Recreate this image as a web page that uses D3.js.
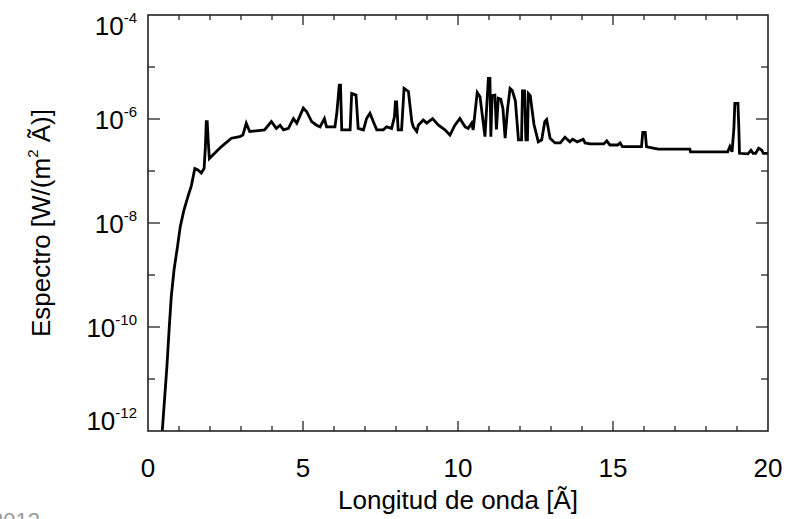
<!DOCTYPE html>
<html><head><meta charset="utf-8">
<script src="https://cdn.jsdelivr.net/npm/d3@7"></script>
<style>
html,body{margin:0;padding:0;background:#fff;overflow:hidden}
text{font-family:"Liberation Sans",Arial,Helvetica,sans-serif}
</style></head>
<body>
<svg id="chart" width="798" height="519"></svg>
<script>
const wavelength = [0.46,0.54,0.61,0.68,0.75,0.84,0.95,1.04,1.16,1.29,1.40,1.51,1.61,1.72,1.81,1.85,1.88,1.91,1.94,1.98,
2.15,2.37,2.69,2.96,3.06,3.17,3.28,3.76,3.98,4.14,4.26,4.37,4.53,4.69,4.80,5.01,5.12,5.28,5.44,5.55,5.69,5.76,6.03,6.09,6.17,6.21,6.25,
6.52,6.57,6.71,6.78,6.95,7.05,7.16,7.29,7.38,7.59,7.70,7.86,7.95,7.98,8.02,8.07,8.18,8.26,8.40,8.51,8.56,8.67,8.72,8.88,8.99,9.18,9.37,
9.58,9.74,9.90,10.06,10.23,10.33,10.44,10.49,10.62,10.71,10.87,10.98,11.03,11.06,11.10,11.19,11.24,11.30,11.38,11.45,11.52,11.60,11.68,
11.75,11.85,11.95,12.05,12.08,12.15,12.19,12.24,12.27,12.33,12.45,12.59,12.70,12.80,12.86,12.97,13.13,13.30,13.45,13.61,13.70,13.85,
14.04,14.10,14.26,14.70,14.80,14.90,15.15,15.23,15.30,15.92,15.96,16.04,16.08,16.14,16.46,17.48,17.50,18.50,18.70,18.77,18.84,18.90,
18.93,19.03,19.06,19.08,19.35,19.45,19.52,19.60,19.70,19.80,19.85,20.0];
const flux = [1.0e-12,4.57e-12,1.74e-11,8.71e-11,3.80e-10,1.26e-9,3.47e-9,8.51e-9,1.78e-8,3.24e-8,5.25e-8,1.12e-7,1.05e-7,9.12e-8,1.12e-7,2.82e-7,8.91e-7,8.91e-7,3.98e-7,1.74e-7,
2.19e-7,2.95e-7,4.27e-7,4.57e-7,4.90e-7,8.32e-7,5.75e-7,6.17e-7,8.91e-7,6.61e-7,7.59e-7,6.17e-7,6.61e-7,1.02e-6,8.32e-7,1.62e-6,1.38e-6,8.91e-7,7.59e-7,7.08e-7,1.02e-6,7.08e-7,7.08e-7,1.29e-6,4.47e-6,4.47e-6,6.17e-7,
6.17e-7,3.09e-6,2.88e-6,6.61e-7,6.17e-7,1.02e-6,1.29e-6,8.32e-7,6.17e-7,6.17e-7,7.08e-7,6.61e-7,1.10e-6,2.14e-6,2.14e-6,6.17e-7,6.17e-7,3.89e-6,3.39e-6,8.91e-7,7.08e-7,5.75e-7,7.59e-7,9.55e-7,8.32e-7,1.02e-6,7.59e-7,
6.17e-7,4.90e-7,7.59e-7,1.02e-6,7.08e-7,6.61e-7,8.32e-7,6.17e-7,3.24e-6,2.69e-6,4.57e-7,6.03e-6,6.03e-6,4.57e-7,2.82e-6,2.88e-6,6.31e-7,2.51e-6,2.40e-6,1.58e-6,4.27e-7,1.58e-6,3.89e-6,
3.55e-6,2.24e-6,3.98e-7,3.98e-7,3.47e-6,3.47e-6,3.98e-7,3.98e-7,3.09e-6,2.82e-6,7.94e-7,3.63e-7,3.98e-7,8.91e-7,9.77e-7,4.27e-7,3.47e-7,3.47e-7,4.47e-7,3.63e-7,4.07e-7,3.63e-7,
4.07e-7,3.47e-7,3.31e-7,3.31e-7,3.80e-7,3.16e-7,3.16e-7,3.47e-7,2.95e-7,2.95e-7,5.50e-7,5.50e-7,2.95e-7,2.88e-7,2.63e-7,2.63e-7,2.34e-7,2.34e-7,2.34e-7,2.95e-7,2.34e-7,6.61e-7,
2.00e-6,2.00e-6,6.61e-7,2.19e-7,2.14e-7,2.51e-7,2.19e-7,2.19e-7,2.75e-7,2.51e-7,2.19e-7,2.19e-7];
const xTickValues = [0,5,10,15,20];
const yTickExponents = [-12,-10,-8,-6,-4];
const xLabel = "Longitud de onda [Ã]";
const yLabelParts = ["Espectro [W/(m", "2", " Ã)]"];
const cornerText = "2012";

const svg = d3.select("#chart");
const L = 148, R = 768, T = 15, B = 431;
const x = d3.scaleLinear().domain([0,20]).range([L,R]);
const y = d3.scaleLog().domain([1e-12,1e-4]).range([B,T]);

svg.append("defs").append("clipPath").attr("id","clip")
  .append("rect").attr("x",L).attr("y",T).attr("width",R-L).attr("height",B-T);

const data = wavelength.map((w,i)=>[w,flux[i]]);
svg.append("path").datum(data)
  .attr("clip-path","url(#clip)")
  .attr("fill","none").attr("stroke","#000").attr("stroke-width",2.8)
  .attr("stroke-linejoin","miter")
  .attr("d", d3.line().x(d=>x(d[0])).y(d=>y(d[1])));

// frame
svg.append("rect").attr("x",L).attr("y",T).attr("width",R-L).attr("height",B-T)
  .attr("fill","none").attr("stroke","#222").attr("stroke-width",1.6);

const g = svg.append("g").attr("stroke","#222").attr("stroke-width",1.3);
d3.range(1,20,1).forEach(v=>{
  const len = v%5===0 ? 10 : 5;
  g.append("line").attr("x1",x(v)).attr("x2",x(v)).attr("y1",B).attr("y2",B-len);
  g.append("line").attr("x1",x(v)).attr("x2",x(v)).attr("y1",T).attr("y2",T+len);
});
d3.range(-11,-4,1).forEach(e=>{
  const len = e%2===0 ? 12 : 7;
  const yy = y(Math.pow(10,e));
  g.append("line").attr("x1",L).attr("x2",L+len).attr("y1",yy).attr("y2",yy);
  g.append("line").attr("x1",R).attr("x2",R-len).attr("y1",yy).attr("y2",yy);
});

svg.append("g").selectAll("text").data(xTickValues).join("text")
  .attr("x",d=>x(d)).attr("y",477).attr("text-anchor","middle")
  .attr("font-size",26).attr("fill","#000").text(d=>d);

// y tick labels (end labels kept inside the frame height, as in the reference)
const labelY = e => {
  const yy = y(Math.pow(10,e)) + 10;
  return Math.min(Math.max(yy, T + 20), B - 1);
};
const yl = svg.append("g").selectAll("text").data(yTickExponents).join("text")
  .attr("x",137).attr("y",labelY).attr("text-anchor","end")
  .attr("font-size",26).attr("fill","#000");
yl.append("tspan").text("10");
yl.append("tspan").attr("dy",-12).attr("font-size",15).text(d=>"-"+(-d));

svg.append("text").attr("x",(L+R)/2).attr("y",509).attr("text-anchor","middle")
  .attr("font-size",26).attr("fill","#000").text(xLabel);
const yt = svg.append("text").attr("transform",`translate(50,${(T+B)/2}) rotate(-90)`)
  .attr("text-anchor","middle").attr("font-size",26).attr("fill","#000");
yt.append("tspan").text(yLabelParts[0]);
yt.append("tspan").attr("dy",-12).attr("font-size",15).text(yLabelParts[1]);
yt.append("tspan").attr("dy",12).text(yLabelParts[2]);

svg.append("text").attr("x",-9).attr("y",528).attr("font-size",22).attr("fill","#999").text(cornerText);
</script>
</body></html>
